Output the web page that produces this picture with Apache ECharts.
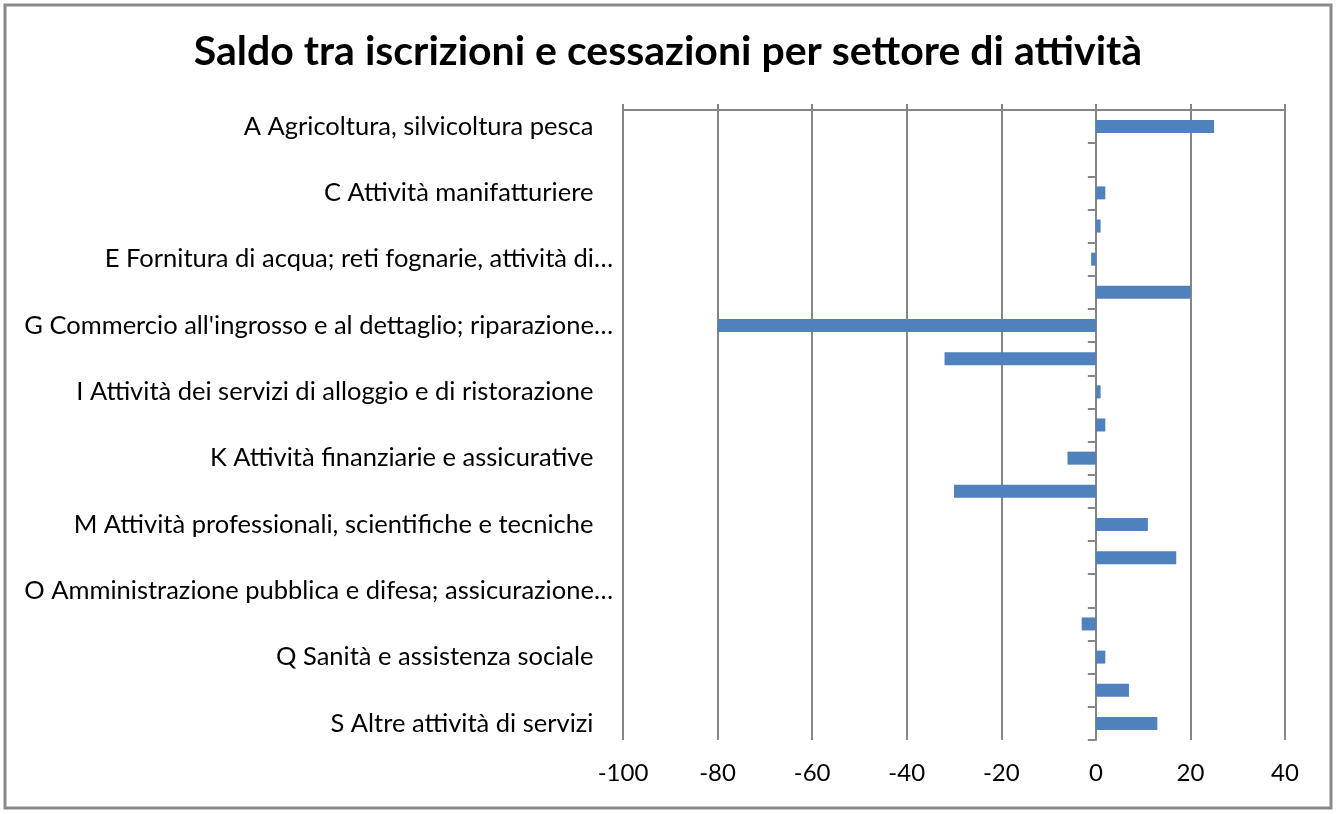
<!DOCTYPE html>
<html>
    <head>
        <meta charset="utf-8">
        <title>Saldo per settore</title>
        <script src="https://cdn.jsdelivr.net/npm/echarts@6/dist/echarts.min.js"></script>
        <style>
            body { margin: 0; background: #fff; }
        </style>
    </head>
    <body>
        <div id="chart" style="width: 1336px;height: 814px;"></div>
        <script>
            var myChart = echarts.init(document.getElementById("chart"));

            // settori (le etichette pari sono nascoste come nel grafico originale)
            var settori = [
                'A Agricoltura, silvicoltura pesca',
                'B Estrazione di minerali da cave e miniere',
                'C Attività manifatturiere',
                'D Fornitura di energia elettrica, gas, vapore e aria condizionata',
                'E Fornitura di acqua; reti fognarie, attività di…',
                'F Costruzioni',
                'G Commercio all\'ingrosso e al dettaglio; riparazione…',
                'H Trasporto e magazzinaggio',
                'I Attività dei servizi di alloggio e di ristorazione',
                'J Servizi di informazione e comunicazione',
                'K Attività finanziarie e assicurative',
                'L Attività immobiliari',
                'M Attività professionali, scientifiche e tecniche',
                'N Noleggio, agenzie di viaggio, servizi di supporto alle imprese',
                'O Amministrazione pubblica e difesa; assicurazione…',
                'P Istruzione',
                'Q Sanità e assistenza sociale',
                'R Attività artistiche, sportive, di intrattenimento',
                'S Altre attività di servizi'
            ];
            var saldo = [25, 0, 2, 1, -1, 20, -80, -32, 1, 2, -6, -30, 11, 17, 0, -3, 2, 7, 13];

            var asseMin = -100;
            var asseMax = 40;
            var passo = 20;

            var grigio = '#868686';
            var font = 'Lato';

            option = {
                animation: false,
                title: {
                    text: 'Saldo tra iscrizioni e cessazioni per settore di attività',
                    left: 'center',
                    top: 26,
                    textStyle: {
                        fontFamily: font,
                        fontSize: 41,
                        fontWeight: 'bold',
                        color: '#000'
                    }
                },
                graphic: [{
                    type: 'rect',
                    shape: { x: 5, y: 5, width: 1326, height: 803 },
                    style: { fill: 'none', stroke: '#898989', lineWidth: 3 },
                    silent: true
                }],
                grid: {
                    left: 623,
                    right: 51,
                    top: 110,
                    bottom: 74
                },
                xAxis: [{
                    type: 'value',
                    position: 'bottom',
                    min: asseMin,
                    max: asseMax,
                    interval: passo,
                    axisLine: { show: false },
                    axisTick: { show: false },
                    axisLabel: {
                        margin: 21,
                        fontFamily: font,
                        fontSize: 24,
                        color: '#000'
                    },
                    splitLine: {
                        show: true,
                        lineStyle: { color: grigio, width: 2 }
                    }
                }, {
                    type: 'value',
                    position: 'top',
                    min: asseMin,
                    max: asseMax,
                    interval: passo,
                    axisLine: { show: true, lineStyle: { color: grigio, width: 2 } },
                    axisTick: { show: true, length: 6, lineStyle: { color: grigio, width: 2 } },
                    axisLabel: { show: false },
                    splitLine: { show: false }
                }],
                yAxis: [{
                    type: 'category',
                    data: settori,
                    inverse: true,
                    position: 'left',
                    axisLine: { show: false },
                    axisTick: { show: false },
                    axisLabel: {
                        interval: 1,
                        margin: 10,
                        fontFamily: font,
                        fontSize: 25.5,
                        color: '#000',
                        formatter: function (v) {
                            // le etichette intere hanno spazi finali come in Excel
                            return v.slice(-1) === '…' ? v : v + '   ';
                        }
                    }
                }, {
                    type: 'category',
                    data: settori,
                    inverse: true,
                    position: 'left',
                    axisLine: {
                        show: true,
                        onZero: true,
                        lineStyle: { color: grigio, width: 2 }
                    },
                    axisTick: {
                        show: true,
                        interval: 0,
                        length: 8,
                        lineStyle: { color: grigio, width: 2 }
                    },
                    axisLabel: { show: false }
                }],
                series: [{
                    name: 'Saldo',
                    type: 'bar',
                    xAxisIndex: 0,
                    yAxisIndex: 0,
                    data: saldo,
                    barWidth: 13,
                    itemStyle: { color: '#4F81BD' }
                }]
            };

            myChart.setOption(option);
        </script>
    </body>
</html>
